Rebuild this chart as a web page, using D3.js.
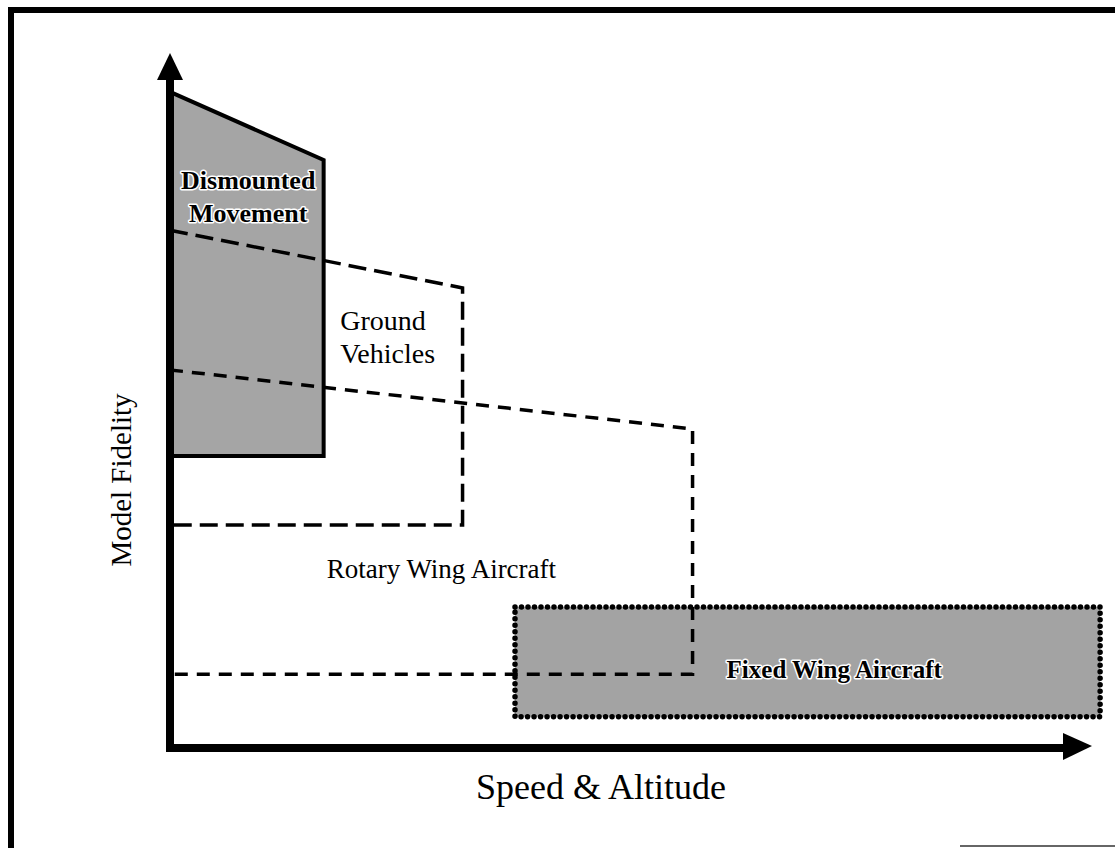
<!DOCTYPE html>
<html>
<head>
<meta charset="utf-8">
<script src="https://cdn.jsdelivr.net/npm/d3@7"></script>
<style>
  body { margin: 0; background: #fff; }
  svg { display: block; }
  text { font-family: "Liberation Serif", "DejaVu Serif", serif; fill: #000; }
  .halo { paint-order: stroke; stroke: #fff; stroke-width: 3px; stroke-linejoin: round; }
</style>
</head>
<body>
<svg width="1115" height="848"></svg>
<script>
WIDTH = 1115;
HEIGHT = 848;

// regions in chart units: speed/altitude (x) and model fidelity (y), 0..100
var dismountedX = [0, 16.7, 16.7, 0];
var dismountedY = [94.4, 84.6, 42.0, 42.0];
var groundX = [0, 31.8, 31.8, 0];
var groundY = [74.5, 66.2, 32.1, 32.1];
var rotaryX = [0, 56.8, 56.8, 0];
var rotaryY = [54.4, 45.9, 10.6, 10.6];
var fixedX = [37.5, 101.1];
var fixedY = [20.3, 4.5];

// labels and where they sit (chart units)
var labelText = ["Dismounted", "Movement", "Ground", "Vehicles", "Rotary Wing Aircraft", "Fixed Wing Aircraft"];
var labelX = [8.5, 8.5, 18.5, 18.5, 29.5, 72.2];
var labelY = [80.4, 75.7, 60.1, 55.4, 24.5, 10.1];
var axisTitles = ["Speed & Altitude", "Model Fidelity"];

var svg = d3.select("svg");

var x = d3.scaleLinear().domain([0, 100]).range([170, 1090]);
var y = d3.scaleLinear().domain([0, 100]).range([748, 53]);

function pts (xs, ys) {
  return xs.map(function (d, i) { return [x(d), y(ys[i])]; });
}

// outer frame
svg.append("path")
  .attr("d", "M11,848V10H1115")
  .attr("fill", "none")
  .attr("stroke", "#000")
  .attr("stroke-width", 6);
svg.append("line")
  .attr("x1", 960).attr("x2", 1115)
  .attr("y1", 846).attr("y2", 846)
  .attr("stroke", "#666")
  .attr("stroke-width", 2);

// dismounted movement - grey polygon, solid border
svg.append("path")
  .attr("d", d3.line()(pts(dismountedX, dismountedY)) + "Z")
  .attr("fill", "#a5a5a5")
  .attr("stroke", "#000")
  .attr("stroke-width", 4)
  .attr("stroke-linejoin", "miter");

// ground vehicles - long dashes
svg.append("path")
  .attr("d", d3.line()(pts(groundX, groundY)))
  .attr("fill", "none")
  .attr("stroke", "#000")
  .attr("stroke-width", 3.5)
  .attr("stroke-dasharray", "18 8");

// fixed wing aircraft - grey box, dotted border
svg.append("rect")
  .attr("x", x(fixedX[0]))
  .attr("y", y(fixedY[0]))
  .attr("width", x(fixedX[1]) - x(fixedX[0]))
  .attr("height", y(fixedY[1]) - y(fixedY[0]))
  .attr("fill", "#a3a3a3")
  .attr("stroke", "#000")
  .attr("stroke-width", 5.5)
  .attr("stroke-linecap", "round")
  .attr("stroke-dasharray", "0 6.5");

// rotary wing aircraft - short dashes
svg.append("path")
  .attr("d", d3.line()(pts(rotaryX, rotaryY)))
  .attr("fill", "none")
  .attr("stroke", "#000")
  .attr("stroke-width", 3.5)
  .attr("stroke-dasharray", "13 9");

// region labels
var bold = [true, true, false, false, false, true];
var anchor = ["middle", "middle", "start", "start", "middle", "middle"];
var size = [26, 26, 28, 28, 27, 25];
labelText.forEach(function (t, i) {
  svg.append("text")
    .attr("class", bold[i] ? "halo" : null)
    .attr("x", x(labelX[i]))
    .attr("y", y(labelY[i]))
    .attr("text-anchor", anchor[i])
    .attr("font-size", size[i])
    .attr("font-weight", bold[i] ? "bold" : "normal")
    .text(t);
});

// axes with arrow heads
svg.append("line")
  .attr("x1", x(0)).attr("y1", y(0))
  .attr("x2", x(0)).attr("y2", y(100) + 20)
  .attr("stroke", "#000").attr("stroke-width", 8);
svg.append("line")
  .attr("x1", x(0) - 4).attr("y1", y(0))
  .attr("x2", x(100) - 22).attr("y2", y(0))
  .attr("stroke", "#000").attr("stroke-width", 8);
svg.append("path")
  .attr("d", "M" + x(0) + "," + y(100) + "l-13,27h26z")
  .attr("fill", "#000");
svg.append("path")
  .attr("d", "M" + (x(100) + 2) + "," + (y(0) - 2) + "l-29,-13v27z")
  .attr("fill", "#000");

// axis titles
svg.append("text")
  .attr("x", 601)
  .attr("y", 799)
  .attr("text-anchor", "middle")
  .attr("font-size", 36)
  .text(axisTitles[0]);
svg.append("text")
  .attr("transform", "translate(131,480) rotate(-90)")
  .attr("text-anchor", "middle")
  .attr("font-size", 29)
  .text(axisTitles[1]);
</script>
</body>
</html>
